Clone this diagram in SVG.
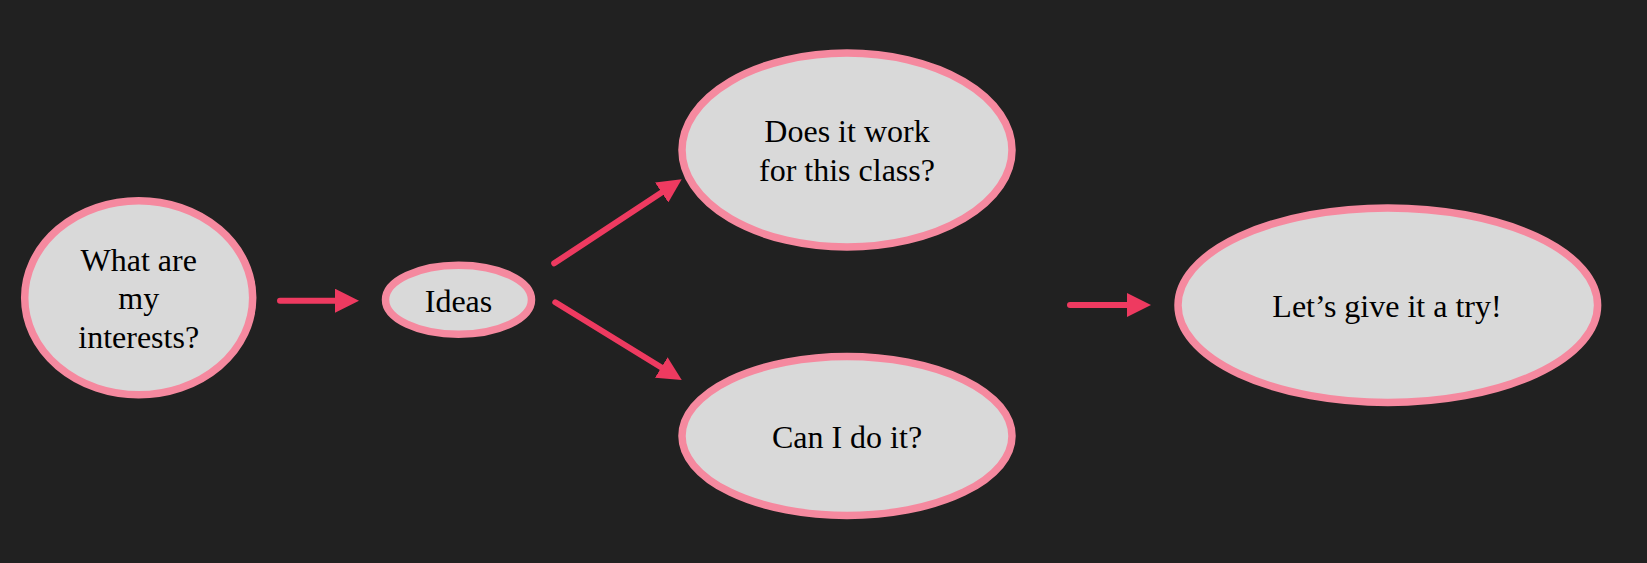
<svg xmlns="http://www.w3.org/2000/svg" width="1647" height="563" viewBox="0 0 1647 563">
<style>
.node ellipse{fill:#d9d9d9;stroke:#f5899f;stroke-width:7.5}
.node text{font-family:"Liberation Serif","Times New Roman",serif;font-size:32px;fill:#000;text-anchor:middle}
.edge{stroke:#ee3a60;stroke-width:6;stroke-linecap:round;fill:none;marker-end:url(#ah)}
</style>
<defs>
<marker id="ah" markerUnits="userSpaceOnUse" markerWidth="24" markerHeight="24" viewBox="0 0 24 24" refX="4" refY="12" orient="auto">
<path d="M0,0 L24,12 L0,24 z" fill="#ee3a60"/>
</marker>
</defs>
<rect width="1647" height="563" fill="#212121"/>
<g id="connectors">
<line class="edge" x1="280" y1="300.7" x2="339" y2="300.7"/>
<line class="edge" x1="554.2" y1="263.3" x2="665" y2="190.3"/>
<line class="edge" x1="555.3" y1="302.3" x2="664.7" y2="369.5"/>
<line class="edge" x1="1070" y1="305" x2="1131" y2="305"/>
</g>
<g id="n-interests" class="node">
<ellipse cx="138.7" cy="297.8" rx="114" ry="97"/>
<text x="138.7" y="270.7">What are</text>
<text x="138.7" y="309">my</text>
<text x="138.7" y="348.3">interests?</text>
</g>
<g id="n-ideas" class="node">
<ellipse cx="458.5" cy="299.7" rx="73" ry="34.5"/>
<text x="458.5" y="311.7">Ideas</text>
</g>
<g id="n-work" class="node">
<ellipse cx="847" cy="150" rx="165" ry="97"/>
<text x="847" y="141.5">Does it work</text>
<text x="847" y="180.5">for this class?</text>
</g>
<g id="n-cando" class="node">
<ellipse cx="847" cy="436" rx="165" ry="79.5"/>
<text x="847" y="447.5">Can I do it?</text>
</g>
<g id="n-try" class="node">
<ellipse cx="1387.8" cy="305.2" rx="209.8" ry="97.3"/>
<text x="1387" y="316.7">Let’s give it a try!</text>
</g>
</svg>
